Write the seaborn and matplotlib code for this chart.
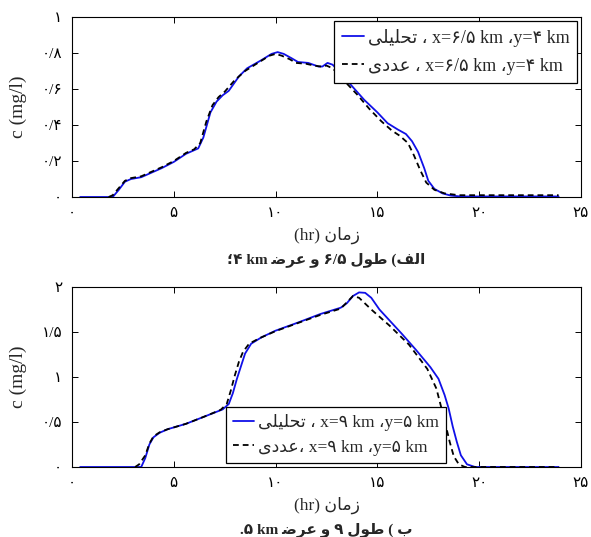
import numpy as np
import pandas as pd
import matplotlib
matplotlib.use("Agg")
import matplotlib.pyplot as plt
import seaborn as sns

# ---------------- data ----------------
# panel (a): x=6.5 km, y=4 km
t_a1 = [0.4, 2.0, 2.3, 2.6, 2.9, 3.4, 3.8, 4.4, 5.0, 5.6, 6.0, 6.2, 6.45, 6.8, 7.1, 7.4, 7.7,
        8.2, 8.6, 9.3, 9.8, 10.1, 10.4, 10.8, 11.1, 11.6, 12.1, 12.3, 12.55, 12.8, 13.1, 13.4,
        13.8, 14.35, 15.0, 15.5, 16.0, 16.4, 16.7, 17.0, 17.3, 17.5, 17.8, 18.2, 18.6, 19.1, 23.9]
c_a1 = [0, 0, 0.04, 0.085, 0.10, 0.11, 0.13, 0.16, 0.195, 0.24, 0.26, 0.27, 0.33, 0.47, 0.53,
        0.565, 0.59, 0.67, 0.715, 0.76, 0.795, 0.805, 0.795, 0.77, 0.75, 0.745, 0.725, 0.725,
        0.745, 0.735, 0.70, 0.66, 0.61, 0.54, 0.47, 0.41, 0.375, 0.35, 0.31, 0.25, 0.16, 0.09,
        0.045, 0.02, 0.008, 0.003, 0.003]
t_n1 = [1.8, 2.0, 2.3, 2.6, 2.9, 3.4, 3.8, 4.4, 5.0, 5.6, 6.0, 6.3, 6.6, 6.9, 7.2, 7.5, 8.0,
        8.5, 9.2, 9.7, 10.0, 10.3, 10.7, 11.0, 11.5, 11.9, 12.2, 12.5, 12.8, 13.1, 13.5, 14.0,
        14.6, 15.2, 15.7, 16.1, 16.5, 16.8, 17.1, 17.4, 17.8, 18.3, 19.0, 23.9]
c_n1 = [0, 0.01, 0.05, 0.09, 0.105, 0.115, 0.135, 0.165, 0.2, 0.245, 0.265, 0.30, 0.42, 0.51,
        0.555, 0.585, 0.65, 0.70, 0.75, 0.785, 0.795, 0.785, 0.765, 0.745, 0.74, 0.73, 0.725,
        0.73, 0.715, 0.68, 0.63, 0.57, 0.49, 0.42, 0.37, 0.34, 0.30, 0.23, 0.15, 0.08, 0.04,
        0.02, 0.01, 0.01]

# panel (b): x=9 km, y=5 km
t_a2 = [0.4, 3.4, 3.6, 3.8, 4.0, 4.3, 4.7, 5.6, 6.5, 7.4, 7.7, 7.9, 8.1, 8.3, 8.5, 8.8, 9.3,
        10.0, 11.1, 12.2, 13.2, 13.5, 13.8, 14.1, 14.4, 14.7, 15.1, 16.2, 16.9, 17.6, 18.0,
        18.3, 18.5, 18.7, 18.9, 19.1, 19.4, 19.8, 23.9]
c_a2 = [0, 0, 0.1, 0.25, 0.33, 0.38, 0.42, 0.48, 0.56, 0.64, 0.70, 0.82, 0.98, 1.12, 1.26,
        1.37, 1.44, 1.515, 1.605, 1.70, 1.77, 1.82, 1.90, 1.94, 1.935, 1.88, 1.75, 1.48, 1.30,
        1.11, 0.98, 0.80, 0.65, 0.45, 0.28, 0.13, 0.03, 0.0, 0.0]
t_n2 = [3.1, 3.3, 3.6, 3.8, 4.0, 4.3, 4.7, 5.6, 6.5, 7.3, 7.6, 7.8, 8.0, 8.2, 8.4, 8.7, 9.2,
        10.0, 11.1, 12.2, 13.2, 13.5, 13.8, 14.1, 14.7, 15.6, 16.55, 17.45, 17.9, 18.15, 18.35,
        18.55, 18.75, 19.0, 19.3, 23.9]
c_n2 = [0, 0.03, 0.13, 0.26, 0.34, 0.385, 0.42, 0.48, 0.56, 0.635, 0.70, 0.85, 1.02, 1.17,
        1.28, 1.37, 1.43, 1.51, 1.60, 1.69, 1.76, 1.83, 1.90, 1.88, 1.75, 1.57, 1.36, 1.09,
        0.87, 0.65, 0.47, 0.28, 0.12, 0.03, 0.0, 0.0]

# ticks
x_ticks = [0, 5, 10, 15, 20, 25]
x_ticklabels = ["۰", "۵", "۱۰", "۱۵", "۲۰", "۲۵"]
y1_ticks = [0, 0.2, 0.4, 0.6, 0.8, 1.0]
y1_ticklabels = ["۰", "۰/۲", "۰/۴", "۰/۶", "۰/۸", "۱"]
y2_ticks = [0, 0.5, 1.0, 1.5, 2.0]
y2_ticklabels = ["۰", "۰/۵", "۱", "۱/۵", "۲"]

# Persian words in visual (left-to-right) order, pre-shaped glyphs
TAHLILI = "\uFEF0\uFEE0\uFEF4\uFEE0\uFEA4\uFE97"   # تحلیلی
ADADI = "\uFEEF\uFEA9\uFEAA\uFECB"                # عددی
ZAMAN = "\uFEE5\uFE8E\uFEE3\uFEAF"                # زمان
ALEF = "\uFED2\uFEDF\uFE8D"                       # الف
TOOL = "\uFEDD\uFEEE\uFEC3"                       # طول
VA = "\uFEED"                                     # و
ARZ = "\uFEBF\uFEAE\uFECB"                        # عرض
BE = "\uFE8F"                                     # ب

lab_a1 = TAHLILI + " ، x=۶/۵ km ،y=۴ km"
lab_n1 = ADADI + " ، x=۶/۵ km ،y=۴ km"
lab_a2 = TAHLILI + " ، x=۹ km ،y=۵ km"
lab_n2 = ADADI + "، x=۹ km ،y=۵ km"
xlabel_txt = "(hr) " + ZAMAN
ylabel_txt = "c (mg/l)"
cap1 = "؛۴ km " + ARZ + " " + VA + " ۶/۵ " + TOOL + " (" + ALEF
cap2 = ".۵ km " + ARZ + " " + VA + " ۹ " + TOOL + " ( " + BE

# ---------------- style ----------------
sns.set_style("ticks")
FAM = ["Liberation Serif", "DejaVu Sans"]
plt.rcParams["font.family"] = FAM
plt.rcParams["axes.unicode_minus"] = False

BLUE = "#1010e8"
fig = plt.figure(figsize=(5.91, 5.37), dpi=100)
L = 72 / 591
W = (581 - 72) / 591
H = 180 / 537
ax1 = fig.add_axes([L, 1 - 197 / 537, W, H])
ax2 = fig.add_axes([L, 1 - 467 / 537, W, H])

panels = [
    (ax1, t_a1, c_a1, t_n1, c_n1, lab_a1, lab_n1, y1_ticks, y1_ticklabels, (0, 1), cap1),
    (ax2, t_a2, c_a2, t_n2, c_n2, lab_a2, lab_n2, y2_ticks, y2_ticklabels, (0, 2), cap2),
]

for i, (ax, ta, ca, tn, cn, la, ln, yt, ytl, ylim, cap) in enumerate(panels):
    sns.lineplot(x=ta, y=ca, ax=ax, color=BLUE, linewidth=1.3, label=la)
    sns.lineplot(x=tn, y=cn, ax=ax, color="black", linewidth=1.3, label=ln,
                 linestyle=(0, (3.2, 2.2)))
    ax.set_xlim(0, 25)
    ax.set_ylim(*ylim)
    ax.set_xticks(x_ticks)
    ax.set_xticklabels(x_ticklabels, fontsize=11)
    ax.set_yticks(yt)
    ax.set_yticklabels(ytl, fontsize=11)
    ax.tick_params(direction="in", top=True, right=True, length=4, width=0.7,
                   colors="black", pad=7)
    for s in ax.spines.values():
        s.set_visible(True)
        s.set_color("black")
        s.set_linewidth(0.8)
    ax.set_ylabel(ylabel_txt, fontsize=14)
    ax.yaxis.set_label_coords(-0.105, 0.5)
    ax.yaxis.label.set_va("center")
    ax.set_xlabel(xlabel_txt, fontsize=12.5)
    ax.xaxis.set_label_coords(0.5, -0.215)
    ax.xaxis.label.set_va("center")
    ax.text(0.5, -0.345, cap, transform=ax.transAxes, ha="center", va="center",
            fontsize=11, fontweight="bold", family=FAM)
    if i == 0:
        leg = ax.legend(loc="upper right", bbox_to_anchor=(1.0, 1.0), fontsize=13,
                        handlelength=1.2, handletextpad=0.2, borderpad=0.45,
                        labelspacing=0.6, borderaxespad=0.2, frameon=True, fancybox=False)
    else:
        leg = ax.legend(loc="lower left", bbox_to_anchor=(0.303, 0.025), fontsize=12.5,
                        handlelength=1.2, handletextpad=0.25, borderpad=0.4,
                        labelspacing=0.5, borderaxespad=0.0, frameon=True, fancybox=False)
    leg.get_frame().set_edgecolor("black")
    leg.get_frame().set_linewidth(0.9)
    leg.get_frame().set_alpha(1.0)

fig.savefig("out.png", dpi=100)
